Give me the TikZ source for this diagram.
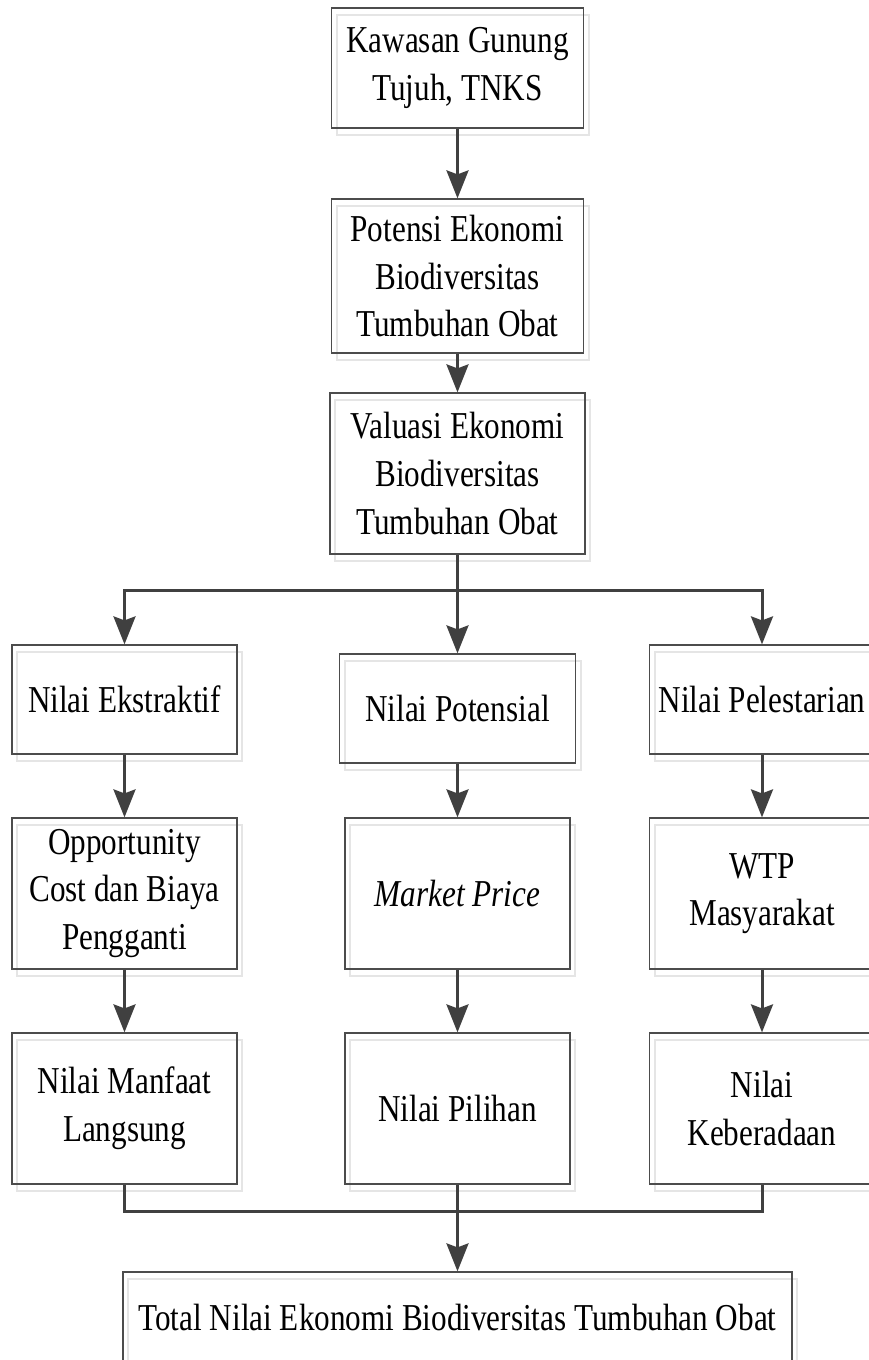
\documentclass[tikz,border=0pt]{standalone}
\usepackage{fontspec}
\setmainfont[FakeStretch=0.82]{Liberation Serif}
\usetikzlibrary{arrows.meta,shadows}
\tikzset{%
block/.style={draw=black!70,line width=0.6pt,align=center,inner sep=0pt,
              font=\fontsize{19}{23.8}\selectfont,
              drop shadow={shadow xshift=2.5pt,shadow yshift=-3.5pt,
                           fill=none,draw=black!10,line width=1pt,opacity=1}},
main/.style={block,minimum width=126pt},
side/.style={block,minimum width=112.5pt},
link/.style={draw=black!75,line width=1.5pt},
flow/.style={link,-{Stealth[length=14pt,width=11pt,inset=2pt]}}
}

\begin{document}
\begin{tikzpicture}[x=0.5pt,y=-0.5pt]
\useasboundingbox (0,0) rectangle (868,1360);
\node[main,minimum height=60pt]   (kawasan) at (457.5,68)    {Kawasan Gunung\\Tujuh, TNKS};
\node[main,minimum height=77pt]   (potensi) at (457.5,276)   {Potensi Ekonomi\\Biodiversitas\\Tumbuhan Obat};
\node[main,minimum height=80.5pt,minimum width=127.5pt]
                                  (valuasi) at (457.5,473.5) {Valuasi Ekonomi\\Biodiversitas\\Tumbuhan Obat};

\node[side,minimum height=54.5pt] (ekstraktif)  at (124.5,699.5) {Nilai Ekstraktif};
\node[side,minimum height=54.5pt,minimum width=118pt]
                                  (potensial)   at (457.5,708.5) {Nilai Potensial};
\node[side,minimum height=54.5pt] (pelestarian) at (762,699.5)   {Nilai Pelestarian};

\node[side,minimum height=75.5pt] (opportunity) at (124.5,893.5) {Opportunity\\Cost dan Biaya\\Pengganti};
\node[side,minimum height=75.5pt] (market)      at (457.5,893.5) {\itshape Market Price};
\node[side,minimum height=75.5pt] (wtp)         at (762,893.5)   {WTP\\Masyarakat};

\node[side,minimum height=75.5pt] (manfaat)     at (124.5,1108.5) {Nilai Manfaat\\Langsung};
\node[side,minimum height=75.5pt] (pilihan)     at (457.5,1108.5) {Nilai Pilihan};
\node[side,minimum height=75.5pt] (keberadaan)  at (762,1108.5)   {Nilai\\Keberadaan};

\node[block,minimum width=334.5pt,minimum height=45pt]
                                  (total) at (457.5,1317) {Total Nilai Ekonomi Biodiversitas Tumbuhan Obat};

\coordinate (split) at (457.5,590);
\coordinate (merge) at (457.5,1211);

\foreach \a/\b in {kawasan/potensi,
                   potensi/valuasi,
                   ekstraktif/opportunity,
                   opportunity/manfaat,
                   potensial/market,
                   market/pilihan,
                   pelestarian/wtp,
                   wtp/keberadaan}
{
  \draw[flow] (\a) -- (\b);
}

\draw[link] (valuasi) -- (split);
\foreach \o in {ekstraktif,potensial,pelestarian}
  \draw[flow] (split) -| (\o);

\foreach \o in {manfaat,pilihan,keberadaan}
  \draw[link] (\o) |- (merge);
\draw[flow] (merge) -- (total);
\end{tikzpicture}
\end{document}
